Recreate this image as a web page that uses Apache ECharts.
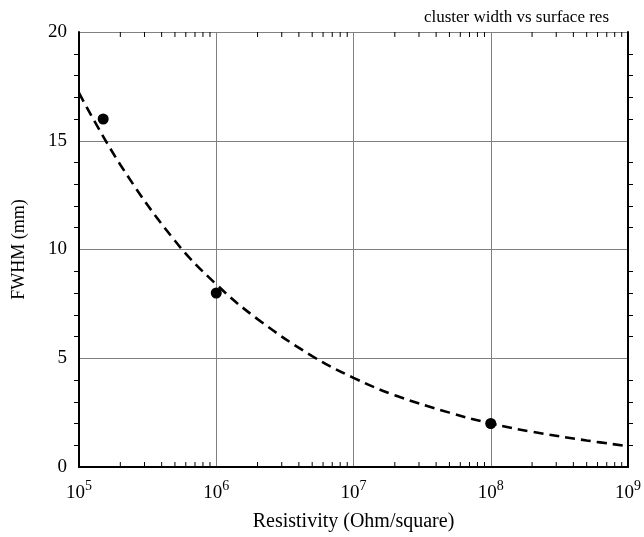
<!DOCTYPE html>
<html><head><meta charset="utf-8">
<script src="https://cdn.jsdelivr.net/npm/echarts@6/dist/echarts.min.js"></script>
<style>html,body{margin:0;padding:0;background:#fff}#c{width:644px;height:537px}</style>
</head><body><div id="c"></div>
<script>
// measured points
const pointX = [1.5e5, 1e6, 1e8];
const pointY = [16, 8, 2];
// dashed fit curve
const fitX = [1e5, 2e5, 5e5, 1e6, 2e6, 5e6, 1e7, 2e7, 5e7, 1e8, 2e8, 5e8, 1e9];
const fitY = [17.2, 13.9, 10.4, 8.4, 6.8, 5.1, 4.1, 3.3, 2.5, 2.0, 1.62, 1.22, 0.96];
const yTicks = [0, 5, 10, 15, 20];
const xMin = 1e5, xMax = 1e9;
const title = 'cluster width vs surface res';
const xName = 'Resistivity (Ohm/square)';
const yName = 'FWHM (mm)';

const FONT = 'Liberation Serif';
// minor tick positions on log axis (2..9 x decade)
const minorX = [];
for (let k = 5; k < 9; k++) for (let m = 2; m <= 9; m++) minorX.push(m * Math.pow(10, k));
const tickData = [];
minorX.forEach(v => { tickData.push([v, 0, 1]); tickData.push([v, 20, -1]); });

const chart = echarts.init(document.getElementById('c'));
chart.setOption({
  animation: false,
  backgroundColor: '#fff',
  title: {
    text: title, right: 30, top: 4,
    textStyle: {fontFamily: FONT, fontSize: 17, fontWeight: 'normal', color: '#000'}
  },
  grid: {left: 79, right: 13, top: 32, bottom: 69},
  xAxis: [{
    type: 'log', logBase: 10, min: xMin, max: xMax,
    name: xName, nameLocation: 'middle', nameGap: 45,
    nameTextStyle: {fontFamily: FONT, fontSize: 20, color: '#000'},
    axisLine: {lineStyle: {color: '#000', width: 2}},
    axisTick: {show: false},
    splitLine: {show: true, lineStyle: {color: '#808080', width: 1}},
    axisLabel: {
      margin: 12,
      formatter: v => '{b|10}{s|' + Math.round(Math.log10(v)) + '}',
      rich: {
        b: {fontFamily: FONT, fontSize: 19, color: '#000'},
        s: {fontFamily: FONT, fontSize: 14, color: '#000', padding: [0, 0, 14, 0]}
      }
    }
  }, {
    type: 'log', logBase: 10, min: xMin, max: xMax, position: 'top',
    axisLine: {lineStyle: {color: '#000', width: 2}},
    axisTick: {show: false}, axisLabel: {show: false}, splitLine: {show: false}
  }],
  yAxis: [{
    type: 'value', min: 0, max: 20, interval: 5,
    name: yName, nameLocation: 'middle', nameGap: 51,
    nameTextStyle: {fontFamily: FONT, fontSize: 18, color: '#000'},
    axisLine: {show: true, lineStyle: {color: '#000', width: 2}},
    axisTick: {show: false},
    minorTick: {show: true, splitNumber: 5, length: 5, lineStyle: {color: '#000', width: 1}},
    splitLine: {show: true, lineStyle: {color: '#808080', width: 1}},
    axisLabel: {margin: 12, fontFamily: FONT, fontSize: 19, color: '#000',
      formatter: v => yTicks.includes(v) ? String(v) : ''}
  }, {
    type: 'value', min: 0, max: 20, interval: 5, position: 'right',
    axisLine: {show: true, lineStyle: {color: '#000', width: 2}},
    axisTick: {show: false},
    minorTick: {show: true, splitNumber: 5, length: 5, lineStyle: {color: '#000', width: 1}},
    splitLine: {show: false}, axisLabel: {show: false}
  }],
  series: [{
    type: 'custom', xAxisIndex: 0, yAxisIndex: 0, silent: true, z: 1,
    data: tickData,
    renderItem: (params, api) => {
      const p = api.coord([api.value(0), api.value(1)]);
      const dir = api.value(2);
      return {type: 'line', shape: {x1: p[0], y1: p[1], x2: p[0], y2: p[1] - 5 * dir},
        style: {stroke: '#000', lineWidth: 1}};
    }
  }, {
    type: 'line', data: fitX.map((x, i) => [x, fitY[i]]),
    smooth: 0.4, symbol: 'none',
    lineStyle: {color: '#000', width: 2.6, type: [10, 6]}, z: 3
  }, {
    type: 'scatter', data: pointX.map((x, i) => [x, pointY[i]]),
    symbol: 'circle', symbolSize: 11, itemStyle: {color: '#000', opacity: 1}, z: 4
  }]
});
</script></body></html>
